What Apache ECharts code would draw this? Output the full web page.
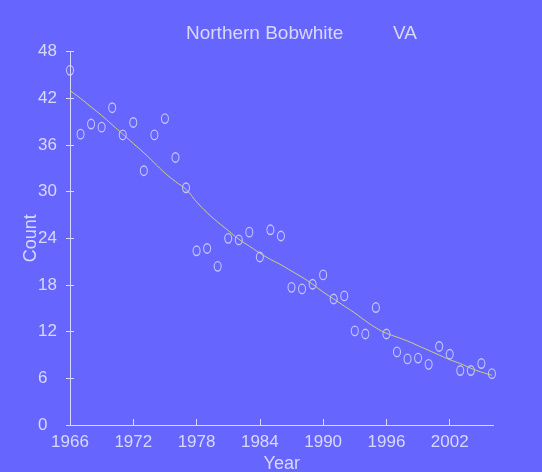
<!DOCTYPE html>
<html>
<head>
<meta charset="utf-8">
<script src="https://cdn.jsdelivr.net/npm/echarts@6/dist/echarts.min.js"></script>
<style>html,body{margin:0;padding:0;background:#6666ff;}#c{width:542px;height:472px;}</style>
</head>
<body>
<div id="c"></div>
<script>
const years = [1966,1967,1968,1969,1970,1971,1972,1973,1974,1975,1976,1977,1978,1979,1980,1981,1982,1983,1984,1985,1986,1987,1988,1989,1990,1991,1992,1993,1994,1995,1996,1997,1998,1999,2000,2001,2002,2003,2004,2005,2006];
const counts = [45.6,37.4,38.7,38.3,40.8,37.3,38.9,32.7,37.3,39.4,34.4,30.5,22.4,22.7,20.4,24.0,23.8,24.8,21.6,25.1,24.3,17.7,17.5,18.1,19.3,16.2,16.6,12.1,11.7,15.1,11.7,9.4,8.5,8.6,7.8,10.1,9.1,7.0,7.0,7.9,6.6];
const trend = [43.0,42.0,40.9,39.8,38.6,37.4,36.2,35.0,33.7,32.4,31.3,30.3,28.7,27.3,26.1,25.0,23.9,23.0,22.1,21.3,20.6,19.8,19.0,18.1,17.1,16.2,15.3,14.4,13.4,12.5,11.8,11.3,10.8,10.2,9.6,9.0,8.4,7.9,7.3,6.8,6.4];
const xTicks = [1966,1972,1978,1984,1990,1996,2002];
const titleText = 'Northern Bobwhite';
const stateText = 'VA';

const FG = '#d8d8ff';
const FONT = '"Liberation Sans", sans-serif';
const chart = echarts.init(document.getElementById('c'));
const xBase = {
  type: 'value', min: 1966, max: 2006.15, gridIndex: 0,
  splitLine: {show: false}
};
const yBase = {
  type: 'value', min: 0, max: 48, interval: 6, gridIndex: 0,
  splitLine: {show: false}
};
chart.setOption({
  backgroundColor: '#6666ff',
  animation: false,
  title: [
    {text: titleText, left: 181, top: 19, textStyle: {color: FG, fontFamily: FONT, fontSize: 19, fontWeight: 'normal'}},
    {text: stateText, left: 388, top: 19, textStyle: {color: FG, fontFamily: FONT, fontSize: 19, fontWeight: 'normal'}}
  ],
  grid: {left: 70, top: 51.7, right: 48.5, bottom: 47, containLabel: false, outerBoundsMode: 'none'},
  xAxis: [
    Object.assign({}, xBase, {
      name: 'Year', nameLocation: 'middle', nameGap: 30, nameMoveOverlap: false,
      nameTextStyle: {color: FG, fontFamily: FONT, fontSize: 18},
      axisLine: {show: true, lineStyle: {color: FG, width: 1}},
      axisTick: {show: true, inside: true, length: 6, customValues: xTicks, lineStyle: {color: FG}},
      axisLabel: {show: true, customValues: xTicks, formatter: v => String(v), color: FG, fontFamily: FONT, fontSize: 17, margin: 9}
    }),
    Object.assign({}, xBase, {
      axisLine: {show: false},
      axisTick: {show: true, inside: false, length: 6, customValues: xTicks, lineStyle: {color: FG}},
      axisLabel: {show: false}
    })
  ],
  yAxis: [
    Object.assign({}, yBase, {
      name: 'Count', nameLocation: 'middle', nameGap: 30, nameRotate: 90, nameMoveOverlap: false,
      nameTextStyle: {color: FG, fontFamily: FONT, fontSize: 18},
      axisLine: {show: true, lineStyle: {color: FG, width: 1}},
      axisTick: {show: true, inside: true, length: 4, lineStyle: {color: FG}},
      axisLabel: {show: true, color: FG, fontFamily: FONT, fontSize: 17, margin: 32, align: 'left'}
    }),
    Object.assign({}, yBase, {
      position: 'left',
      axisLine: {show: false},
      axisTick: {show: true, inside: false, length: 4, lineStyle: {color: FG}},
      axisLabel: {show: false}
    })
  ],
  series: [
    {
      type: 'line', xAxisIndex: 0, yAxisIndex: 0,
      data: years.map((y, i) => [y, trend[i]]),
      smooth: true, showSymbol: false, clip: false,
      lineStyle: {color: '#d0d080', width: 1}
    },
    {
      type: 'scatter', xAxisIndex: 0, yAxisIndex: 0,
      data: years.map((y, i) => [y, counts[i]]),
      symbol: 'circle', symbolSize: [7, 9.5], clip: false,
      itemStyle: {color: 'rgba(0,0,0,0)', borderColor: '#dcdcff', borderWidth: 1.2}
    }
  ]
});
</script>
</body>
</html>
